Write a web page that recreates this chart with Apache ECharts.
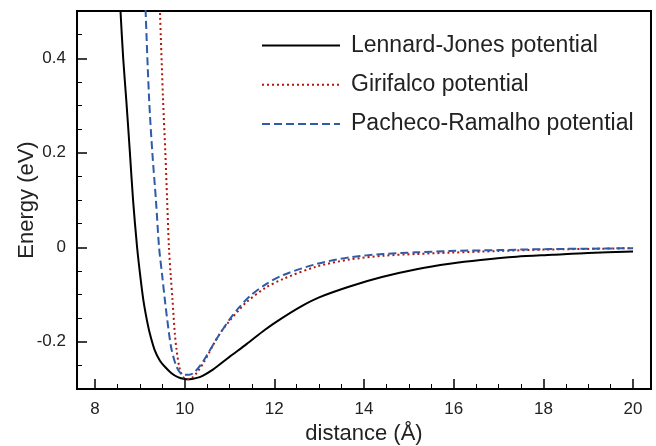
<!DOCTYPE html>
<html>
<head>
<meta charset="utf-8">
<title>C60 interaction potentials</title>
<script src="https://cdn.jsdelivr.net/npm/echarts@6/dist/echarts.min.js"></script>
<style>
  html, body { margin: 0; padding: 0; background: #fff; }
  #chart { width: 656px; height: 446px; }
</style>
</head>
<body>
<div id="chart"></div>
<script>
// values (distance in Å, energy in eV)
const ljX = [8.54, 8.57, 8.63, 8.70, 8.78, 8.85, 8.94, 9.01, 9.08, 9.15, 9.22, 9.33, 9.45, 9.56, 9.70, 9.85, 10.0, 10.11, 10.25, 10.4, 10.63, 11.0, 11.38, 11.8, 12.12, 12.6, 13.0, 13.68, 14.4, 15.2, 15.91, 16.6, 17.4, 18.2, 19.0, 20.0];
const ljY = [0.56, 0.50, 0.40, 0.31, 0.20, 0.10, 0.0, -0.06, -0.112, -0.15, -0.181, -0.217, -0.24, -0.253, -0.266, -0.275, -0.279, -0.2795, -0.277, -0.272, -0.259, -0.232, -0.205, -0.174, -0.153, -0.125, -0.106, -0.083, -0.063, -0.046, -0.035, -0.027, -0.020, -0.016, -0.012, -0.009];

const girX = [9.43, 9.45, 9.52, 9.57, 9.61, 9.65, 9.69, 9.73, 9.78, 9.82, 9.88, 9.94, 10.0, 10.08, 10.18, 10.3, 10.45, 10.63, 10.8, 11.0, 11.2, 11.38, 11.8, 12.2, 12.94, 13.68, 14.43, 15.17, 15.91, 17.0, 18.0, 19.0, 20.0];
const girY = [0.58, 0.50, 0.31, 0.20, 0.10, 0.0, -0.06, -0.112, -0.181, -0.217, -0.253, -0.270, -0.278, -0.2795, -0.275, -0.262, -0.240, -0.208, -0.181, -0.156, -0.134, -0.116, -0.086, -0.067, -0.041, -0.026, -0.018, -0.0143, -0.0115, -0.008, -0.005, -0.0035, -0.002];

const prX = [9.11, 9.13, 9.21, 9.28, 9.36, 9.43, 9.50, 9.56, 9.65, 9.71, 9.82, 9.92, 10.0, 10.1, 10.2, 10.35, 10.5, 10.7, 10.85, 11.0, 11.2, 11.45, 11.8, 12.2, 12.94, 13.68, 14.43, 15.17, 15.91, 17.0, 18.0, 19.0, 20.0];
const prY = [0.58, 0.50, 0.31, 0.20, 0.10, 0.0, -0.06, -0.112, -0.181, -0.217, -0.253, -0.268, -0.270, -0.270, -0.266, -0.250, -0.228, -0.196, -0.174, -0.153, -0.129, -0.104, -0.079, -0.0587, -0.0355, -0.0213, -0.0143, -0.0107, -0.008, -0.006, -0.004, -0.003, -0.002];

const seriesNames = ["Lennard-Jones potential", "Girifalco potential", "Pacheco-Ramalho potential"];

const xMajorTicks = [8, 10, 12, 14, 16, 18, 20];
const xMinorTicks = [8.5, 9, 9.5, 10.5, 11, 11.5, 12.5, 13, 13.5, 14.5, 15, 15.5, 16.5, 17, 17.5, 18.5, 19, 19.5];
const yMajorTicks = [-0.2, 0, 0.2, 0.4];
const yMinorTicks = [-0.25, -0.15, -0.1, -0.05, 0.05, 0.1, 0.15, 0.25, 0.3, 0.35, 0.45];

const FONT = "'Liberation Sans', Arial, Helvetica, sans-serif";

function pairs(xs, ys) {
  return xs.map((x, i) => [x, ys[i]]);
}

const chart = echarts.init(document.getElementById("chart"), null, { renderer: "canvas" });

const axisBase = {
  type: "value",
  splitLine: { show: false }
};

const option = {
  animation: false,
  backgroundColor: "#fff",
  textStyle: { fontFamily: FONT },
  grid: {
    left: 77, right: 5, top: 11, bottom: 57,
    show: true,
    borderColor: "#000",
    borderWidth: 2,
    containLabel: false,
    outerBoundsMode: "none"
  },
  legend: {
    orient: "vertical",
    left: 261,
    top: 34,
    padding: 0,
    itemWidth: 78,
    itemHeight: 14,
    itemGap: 16.3,
    itemStyle: { opacity: 0 },
    textStyle: { fontSize: 23, color: "#222", fontFamily: FONT, padding: [0, 0, 0, 6] },
    data: seriesNames
  },
  xAxis: [
    {
      ...axisBase,
      min: 7.6, max: 20.4,
      name: "distance (Å)",
      nameLocation: "middle",
      nameGap: 34,
      nameMoveOverlap: false,
      nameTextStyle: { fontSize: 22, color: "#222", fontFamily: FONT },
      axisLine: { show: true, onZero: false, lineStyle: { color: "#000", width: 2 } },
      axisTick: { show: true, inside: true, length: 10, customValues: xMajorTicks, lineStyle: { color: "#000", width: 1.5 } },
      axisLabel: { show: true, margin: 12, fontSize: 17, color: "#222", customValues: xMajorTicks }
    },
    {
      ...axisBase,
      min: 7.6, max: 20.4,
      position: "bottom",
      axisLine: { show: false, onZero: false },
      axisTick: { show: true, inside: true, length: 5, customValues: xMinorTicks, lineStyle: { color: "#000", width: 1 } },
      axisLabel: { show: false }
    }
  ],
  yAxis: [
    {
      ...axisBase,
      min: -0.3, max: 0.5,
      name: "Energy (eV)",
      nameLocation: "middle",
      nameGap: 39,
      nameMoveOverlap: false,
      nameTextStyle: { fontSize: 22, color: "#222", fontFamily: FONT },
      axisLine: { show: true, onZero: false, lineStyle: { color: "#000", width: 2 } },
      axisTick: { show: true, inside: true, length: 10, customValues: yMajorTicks, lineStyle: { color: "#000", width: 1.5 } },
      axisLabel: { show: true, margin: 11, fontSize: 17, color: "#222", customValues: yMajorTicks }
    },
    {
      ...axisBase,
      min: -0.3, max: 0.5,
      position: "left",
      axisLine: { show: false, onZero: false },
      axisTick: { show: true, inside: true, length: 5, customValues: yMinorTicks, lineStyle: { color: "#000", width: 1 } },
      axisLabel: { show: false }
    }
  ],
  series: [
    {
      name: seriesNames[0],
      type: "line",
      symbol: "none",
      smooth: 0.3,
      clip: true,
      lineStyle: { color: "#000", width: 2, type: "solid" },
      itemStyle: { color: "#000" },
      data: pairs(ljX, ljY),
      z: 3
    },
    {
      name: seriesNames[1],
      type: "line",
      symbol: "none",
      smooth: 0.3,
      clip: true,
      lineStyle: { color: "#b0180c", width: 2, type: [2, 3] },
      itemStyle: { color: "#b0180c" },
      data: pairs(girX, girY),
      z: 4
    },
    {
      name: seriesNames[2],
      type: "line",
      symbol: "none",
      smooth: 0.3,
      clip: true,
      lineStyle: { color: "#2f5ba8", width: 2, type: [8, 4] },
      itemStyle: { color: "#2f5ba8" },
      data: pairs(prX, prY),
      z: 5
    }
  ]
};

chart.setOption(option);
</script>
</body>
</html>
